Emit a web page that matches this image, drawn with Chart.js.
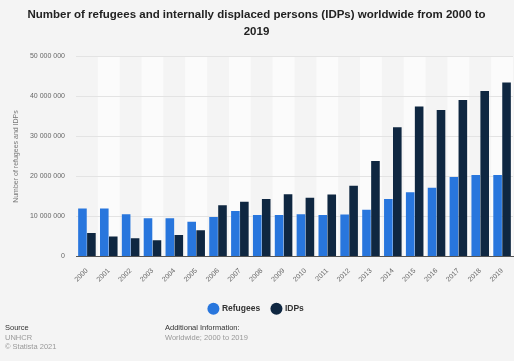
<!DOCTYPE html>
<html>
<head>
<meta charset="utf-8">
<script src="https://cdn.jsdelivr.net/npm/chart.js@4"></script>
<style>
  html, body { margin: 0; padding: 0; background: #f4f4f4; }
  #wrap { position: relative; width: 514px; height: 361px; font-family: "Liberation Sans", Arial, sans-serif; }
  #chart { position: absolute; left: 0; top: 0; }
  .foot { position: absolute; font-size: 7.5px; line-height: 9.5px; color: #999; }
  .foot b { font-weight: normal; color: #333; }
</style>
</head>
<body>
<div id="wrap">
  <canvas id="chart" width="514" height="361"></canvas>
  <div class="foot" style="left:5px; top:323px;"><b>Source</b><br>UNHCR<br>© Statista 2021</div>
  <div class="foot" style="left:165px; top:323px;"><b>Additional Information:</b><br>Worldwide; 2000 to 2019</div>
</div>
<script>
const years = ["2000","2001","2002","2003","2004","2005","2006","2007","2008","2009",
               "2010","2011","2012","2013","2014","2015","2016","2017","2018","2019"];
const refugees = [12.0, 12.0, 10.6, 9.6, 9.6, 8.7, 9.9, 11.4, 10.4, 10.4,
                  10.6, 10.4, 10.5, 11.7, 14.4, 16.1, 17.2, 19.9, 20.4, 20.4];
const idps = [5.9, 5.0, 4.6, 4.1, 5.4, 6.6, 12.8, 13.7, 14.4, 15.6,
              14.7, 15.5, 17.7, 23.9, 32.3, 37.5, 36.6, 39.1, 41.4, 43.5];
const yTicks = [0, 10000000, 20000000, 30000000, 40000000, 50000000];

const M = 1000000;

// lighter background bands behind every other year
const bands = {
  id: "bands",
  beforeDraw(chart) {
    const { ctx, chartArea, scales } = chart;
    const x = scales.x;
    const w = (chartArea.right - chartArea.left) / years.length;
    ctx.save();
    ctx.fillStyle = "#fbfbfb";
    years.forEach((y, i) => {
      if (i % 2 === 1) {
        const cx = x.getPixelForValue(i);
        ctx.fillRect(cx - w / 2, chartArea.top, w, chartArea.bottom - chartArea.top);
      }
    });
    ctx.restore();
  }
};

new Chart(document.getElementById("chart"), {
  type: "bar",
  data: {
    labels: years,
    datasets: [
      { label: "Refugees", data: refugees.map(v => v * M), backgroundColor: "#2876dd",
        barPercentage: 0.96, categoryPercentage: 0.82 },
      { label: "IDPs", data: idps.map(v => v * M), backgroundColor: "#0f2741",
        barPercentage: 0.96, categoryPercentage: 0.82 }
    ]
  },
  options: {
    responsive: false,
    animation: false,
    layout: { padding: { left: 0, right: 1, top: 0, bottom: 38 } },
    plugins: {
      title: {
        display: true,
        text: ["Number of refugees and internally displaced persons (IDPs) worldwide from 2000 to", "2019"],
        color: "#222",
        font: { family: "Liberation Sans", size: 11.5, weight: "bold", lineHeight: 1.5 },
        padding: { top: 6, bottom: 16 }
      },
      legend: {
        position: "bottom",
        labels: {
          usePointStyle: true, pointStyle: "circle", boxWidth: 9, boxHeight: 9,
          color: "#333", padding: 12,
          font: { family: "Liberation Sans", size: 8.5, weight: "bold" }
        }
      },
      tooltip: { enabled: false }
    },
    scales: {
      x: {
        afterFit(s) { s.height += 7; },
        grid: { display: false },
        border: { color: "#555", width: 1 },
        ticks: { color: "#666", minRotation: 45, maxRotation: 45, font: { family: "Liberation Sans", size: 7 }, padding: 2 }
      },
      y: {
        min: 0, max: 50 * M,
        afterFit(s) { s.width = 76; },
        afterBuildTicks(s) { s.ticks = yTicks.map(v => ({ value: v })); },
        grid: { color: "#e3e3e3", drawTicks: false },
        border: { display: false },
        ticks: {
          color: "#666", padding: 11,
          font: { family: "Liberation Sans", size: 7 },
          callback: v => v.toString().replace(/\B(?=(\d{3})+(?!\d))/g, " ")
        },
        title: {
          display: true, text: "Number of refugees and IDPs", color: "#777",
          font: { family: "Liberation Sans", size: 7 }, padding: { top: 12, bottom: 0 }
        }
      }
    }
  },
  plugins: [bands]
});
</script>
</body>
</html>
